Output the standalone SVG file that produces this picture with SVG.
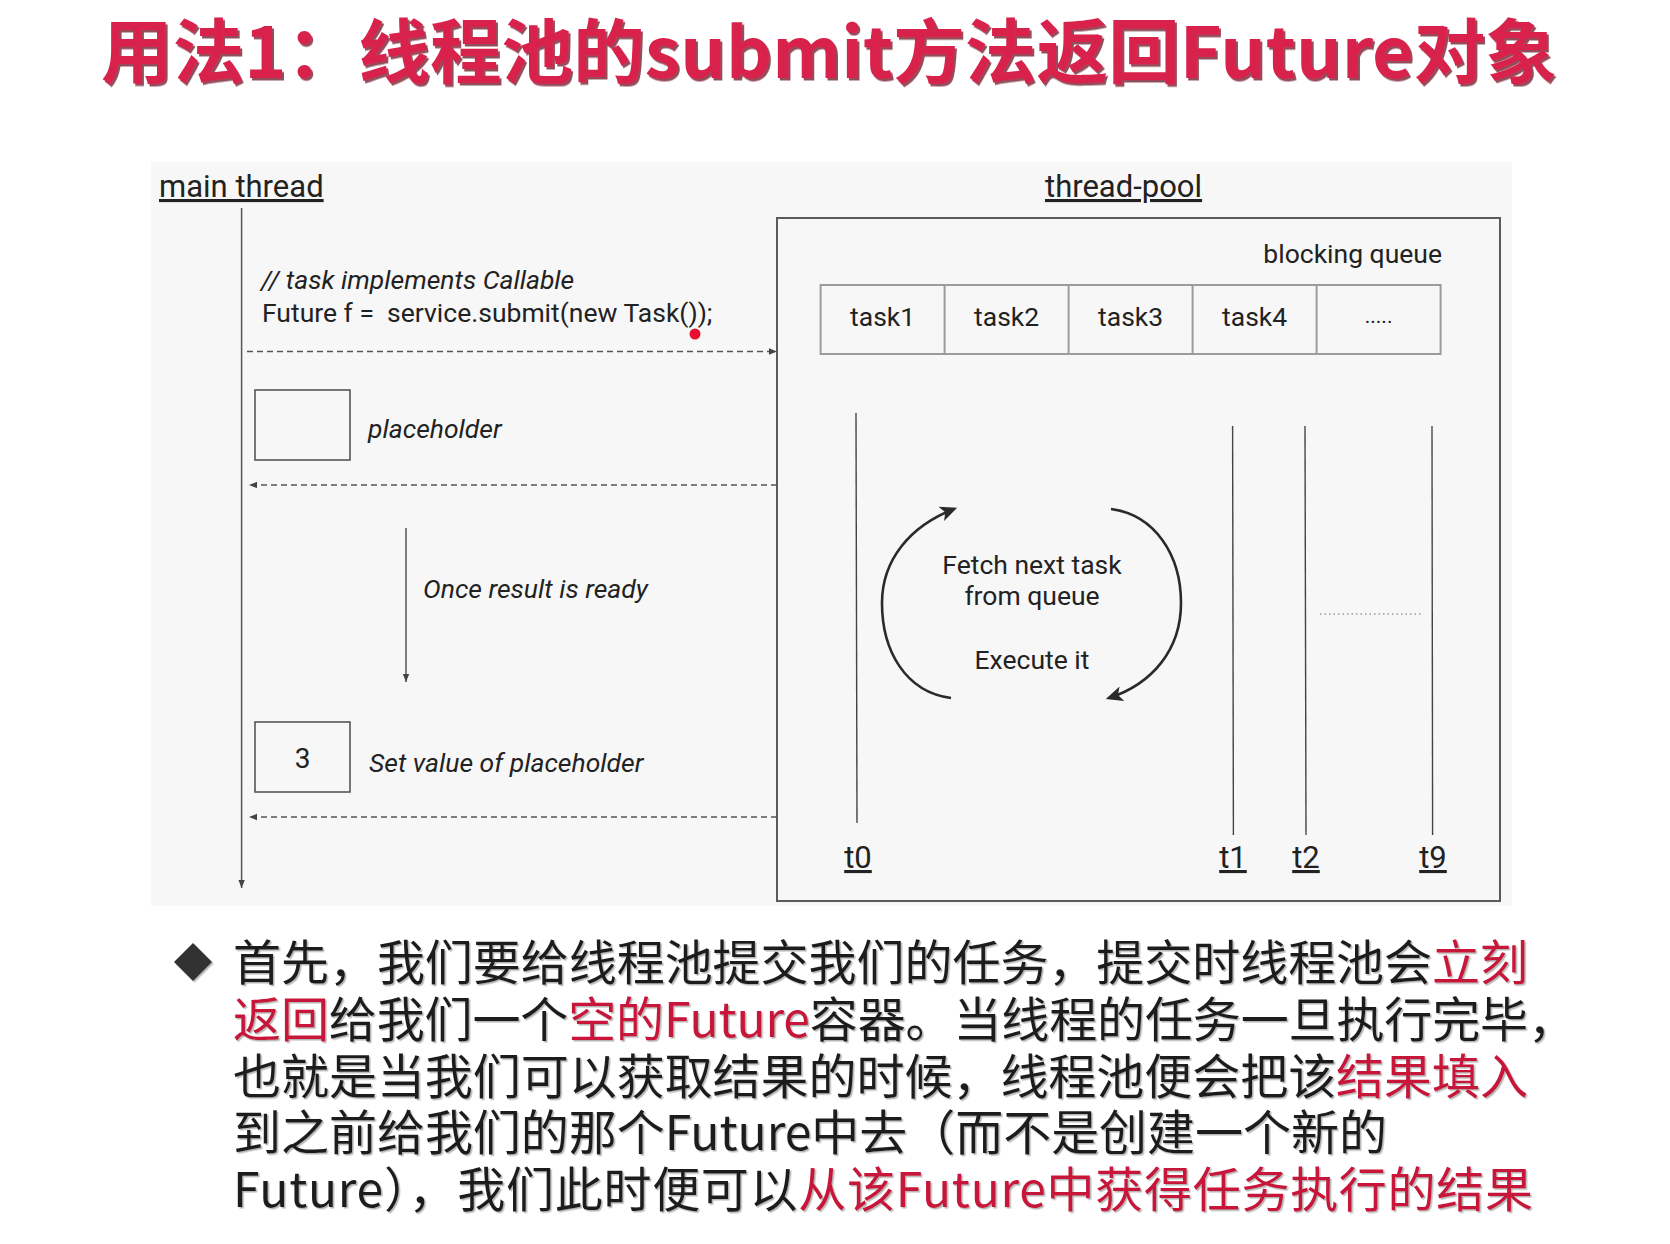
<svg xmlns="http://www.w3.org/2000/svg" width="1670" height="1244" viewBox="0 0 1670 1244">
<style>
.ui{font-family:Roboto,"Liberation Sans",sans-serif;fill:#222}
.hd{font-size:31px;text-decoration:underline}
.it{font-style:italic;font-size:26.5px}
.code{font-size:26.5px;white-space:pre}
.cell{font-size:26.5px;text-anchor:middle}
.lbl{font-size:26.5px;text-anchor:middle}
.frame{fill:none;stroke:#5a5a5a;stroke-width:2}
.ph{fill:none;stroke:#555;stroke-width:1.6}
.cellbox{fill:none;stroke:#9c9c9c;stroke-width:2}
.life{stroke:#555;stroke-width:1.5;fill:none}
.thr{stroke:#444;stroke-width:1.4;fill:none}
.dash{stroke:#555;stroke-width:1.4;stroke-dasharray:6 4;fill:none}
.loop{stroke:#2a2a2a;stroke-width:2.6;fill:none}
.cn{font-family:"Noto Sans CJK SC","Noto Sans CJK TC",sans-serif;font-size:48px;fill:#1e1e1e}
.red{fill:#c8133b}
</style>
<defs>
<marker id="ah" viewBox="0 0 10 10" refX="10" refY="5" markerWidth="8" markerHeight="8" markerUnits="userSpaceOnUse" orient="auto">
<path d="M0,1 L10,5 L0,9 z" fill="#444"/>
</marker>
<marker id="ahLoop" viewBox="0 0 10 10" refX="8" refY="5" markerWidth="17" markerHeight="17" markerUnits="userSpaceOnUse" orient="auto">
<path d="M0,0.5 L10,5 L0,9.5 L2.5,5 z" fill="#2a2a2a"/>
</marker>
<filter id="soft" x="-2%" y="-10%" width="104%" height="130%">
<feDropShadow dx="1.5" dy="1.5" stdDeviation="0.6" flood-color="#777" flood-opacity="0.55"/>
</filter>
<filter id="titleShade" x="-2%" y="-20%" width="104%" height="150%">
<feDropShadow dx="2" dy="2.5" stdDeviation="0.6" flood-color="#6e0f22" flood-opacity="0.75"/>
</filter>
</defs>

<rect width="1670" height="1244" fill="#ffffff"/>

<!-- heading -->
<g id="title" font-family="'Noto Sans CJK SC','Noto Sans CJK TC',sans-serif" font-size="70" font-weight="700" filter="url(#titleShade)">
<text x="101" y="78" textLength="1456" lengthAdjust="spacingAndGlyphs" fill="#d9224b">用法1：线程池的submit方法返回Future对象</text>
</g>

<!-- sequence panel -->
<rect id="panel" x="151" y="162" width="1361" height="744" fill="#f7f7f7"/>

<g id="main-thread" class="ui">
<text class="hd" x="159" y="197">main thread</text>
<text class="it" x="261" y="289">// task implements Callable</text>
<text class="code" x="262" y="322">Future f =  service.submit(new Task());</text>
</g>

<g id="placeholder">
<rect class="ph" x="255" y="390" width="95" height="70" fill="#f9f9f9"/>
<text class="ui it" x="368" y="438">placeholder</text>
</g>

<g id="once-ready">
<text class="ui it" x="423" y="598">Once result is ready</text>
</g>

<g id="value-box">
<rect class="ph" x="255" y="722" width="95" height="70" fill="#f9f9f9"/>
<text class="ui" x="302.5" y="768" font-size="28" text-anchor="middle">3</text>
<text class="ui it" x="369" y="772">Set value of placeholder</text>
</g>

<circle id="pointer-dot" cx="695" cy="334" r="5.5" fill="#e8102e"/>

<g id="thread-pool">
<text class="ui hd" x="1045" y="197">thread-pool</text>
<rect class="frame" x="777" y="218" width="723" height="683" fill="#f9f9f9"/>
<text class="ui" x="1442" y="263" font-size="26.5" text-anchor="end">blocking queue</text>
</g>

<g id="queue">
<rect class="cellbox" x="820.6" y="285" width="620" height="69" fill="#f9f9f9"/>
<line class="cellbox" x1="944.6" y1="285" x2="944.6" y2="354"/>
<line class="cellbox" x1="1068.6" y1="285" x2="1068.6" y2="354"/>
<line class="cellbox" x1="1192.6" y1="285" x2="1192.6" y2="354"/>
<line class="cellbox" x1="1316.6" y1="285" x2="1316.6" y2="354"/>
<g class="ui cell">
<text x="882.6" y="326">task1</text>
<text x="1006.6" y="326">task2</text>
<text x="1130.6" y="326">task3</text>
<text x="1254.6" y="326">task4</text>
<text x="1378.6" y="323" font-size="21">.....</text>
</g>
</g>

<g id="worker-t0">
<line class="thr" x1="856" y1="413" x2="857" y2="823"/>
<text class="ui hd" x="858" y="868" text-anchor="middle">t0</text>
</g>
<g id="worker-t1">
<line class="thr" x1="1232.6" y1="426" x2="1233.4" y2="835"/>
<text class="ui hd" x="1233" y="868" text-anchor="middle">t1</text>
</g>
<g id="worker-t2">
<line class="thr" x1="1305" y1="426" x2="1306" y2="835"/>
<text class="ui hd" x="1306" y="868" text-anchor="middle">t2</text>
</g>
<g id="worker-t9">
<line class="thr" x1="1432" y1="426" x2="1432.6" y2="835"/>
<text class="ui hd" x="1433" y="868" text-anchor="middle">t9</text>
</g>
<line id="more-workers" x1="1320" y1="614" x2="1422" y2="614" stroke="#999" stroke-width="1.4" stroke-dasharray="1.5 3"/>

<g id="worker-loop">
<text class="ui lbl" x="1032" y="574">Fetch next task</text>
<text class="ui lbl" x="1032" y="605">from queue</text>
<text class="ui lbl" x="1032" y="669">Execute it</text>
</g>

<g id="connectors">
<line class="life" x1="241.6" y1="208" x2="241.6" y2="888" marker-end="url(#ah)"/>
<line class="dash" x1="247" y1="351.5" x2="777" y2="351.5" marker-end="url(#ah)"/>
<line class="dash" x1="777" y1="485" x2="249" y2="485" marker-end="url(#ah)"/>
<line class="life" x1="406" y1="528" x2="406" y2="682" marker-end="url(#ah)"/>
<line class="dash" x1="777" y1="817" x2="249" y2="817" marker-end="url(#ah)"/>
<path class="loop" d="M951,698 C905,692 882,650 882,603 C882,560 910,526 954,509" marker-end="url(#ahLoop)"/>
<path class="loop" d="M1111,509 C1155,515 1181,555 1181,603 C1181,650 1152,684 1109,698" marker-end="url(#ahLoop)"/>
</g>

<!-- explanation -->
<g id="note" filter="url(#soft)">
<polygon points="193,943 212,962 193,981 174,962" fill="#333"/>
<text class="cn" x="233" y="980" textLength="1295" lengthAdjust="spacing">首先，我们要给线程池提交我们的任务，提交时线程池会<tspan class="red">立刻</tspan></text>
<text class="cn" x="233" y="1036.75" textLength="1343" lengthAdjust="spacing"><tspan class="red">返回</tspan>给我们一个<tspan class="red">空的Future</tspan>容器。当线程的任务一旦执行完毕，</text>
<text class="cn" x="233" y="1093.5" textLength="1295" lengthAdjust="spacing">也就是当我们可以获取结果的时候，线程池便会把该<tspan class="red">结果填入</tspan></text>
<text class="cn" x="233" y="1150.25" textLength="1154" lengthAdjust="spacing">到之前给我们的那个Future中去（而不是创建一个新的</text>
<text class="cn" x="233" y="1207" textLength="1300" lengthAdjust="spacing">Future），我们此时便可以<tspan class="red">从该Future中获得任务执行的结果</tspan></text>
</g>
</svg>
